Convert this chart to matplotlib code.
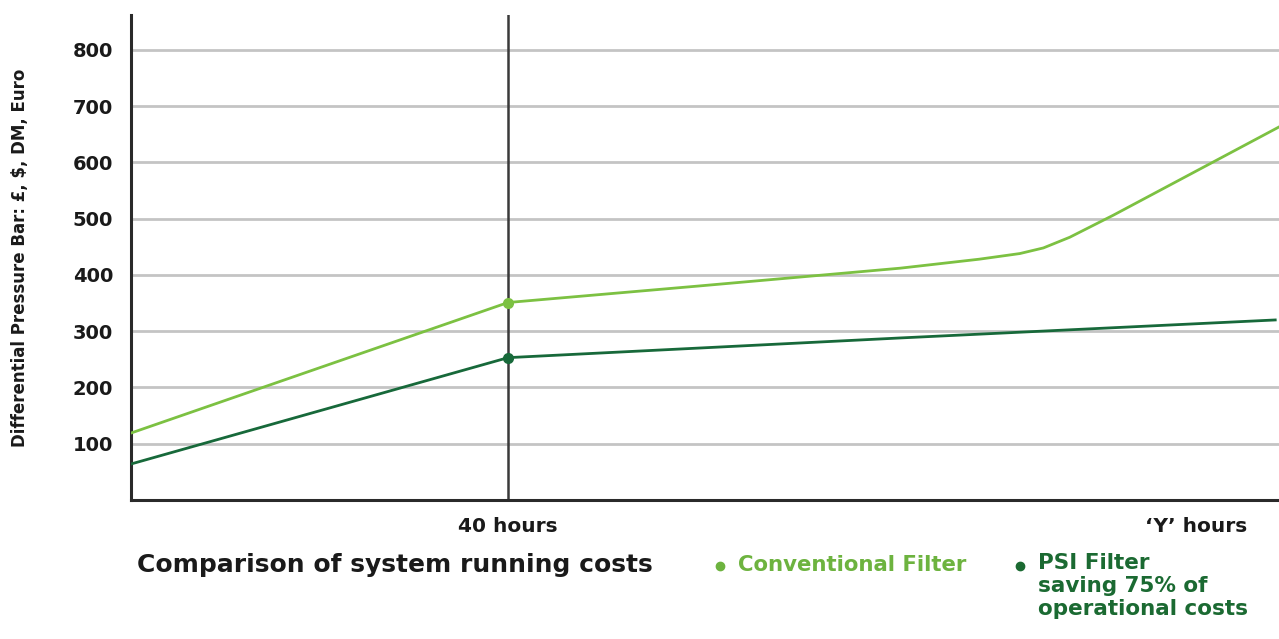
import numpy as np
import matplotlib
matplotlib.use("Agg")
import matplotlib.pyplot as plt
from matplotlib.lines import Line2D

conv_hours = [0, 40, 60, 81.6, 90.0, 94.3, 96.8, 99.6, 104.2, 121.8]
conv_cost = [119, 351, 380, 412, 428, 438, 448, 467, 506, 663]
psi_hours = [0, 40, 81.6, 121.4]
psi_cost = [64, 253, 288, 320]
marker_hours = 40
conv_marker = 351
psi_marker = 253

y_ticks = [100, 200, 300, 400, 500, 600, 700, 800]
x_tick_pos = [40, 113]
x_tick_labels = ["40 hours", "\u2018Y\u2019 hours"]

light_green = "#7cc142"
dark_green = "#17693a"
text_light = "#6db33f"
text_dark = "#1b6a32"
txt = "#1a1a1a"

W, H = 1279, 639
fig = plt.figure(figsize=(W / 100, H / 100), dpi=100)
ax = fig.add_axes([131 / W, 1 - 500 / H, 1 - 131 / W, (500 - 15) / H])

ax.set_xlim(0, 121.8)
ax.set_ylim(0, 862)

for t in y_ticks:
    ax.axhline(t, color="#c4c4c4", lw=2, zorder=1)
ax.axvline(marker_hours, color="#3a3a3a", lw=1.8, zorder=2)

ax.plot(conv_hours, conv_cost, color=light_green, lw=2, zorder=3)
ax.plot(psi_hours, psi_cost, color=dark_green, lw=2, zorder=3)
ax.plot([marker_hours], [conv_marker], "o", color=light_green, ms=7, zorder=4)
ax.plot([marker_hours], [psi_marker], "o", color=dark_green, ms=7, zorder=4)

for s in ["top", "right"]:
    ax.spines[s].set_visible(False)
for s in ["left", "bottom"]:
    ax.spines[s].set_color("#2a2a2a")
    ax.spines[s].set_linewidth(2.2)

ax.set_yticks(y_ticks)
ax.set_yticklabels([str(t) for t in y_ticks], fontsize=14, fontweight="bold",
                   family="DejaVu Sans", color=txt)
ax.set_xticks(x_tick_pos)
ax.set_xticklabels(x_tick_labels, fontsize=14.5, fontweight="bold", family="DejaVu Sans", color=txt)
ax.tick_params(axis="both", length=0)
ax.tick_params(axis="y", pad=13)
ax.tick_params(axis="x", pad=12)

fig.text(20 / W, 1 - 258 / H, "Differential Pressure Bar: \u00a3, $, DM, Euro", rotation=90,
         ha="center", va="center", fontsize=12, fontweight="heavy",
         family=["Liberation Sans Narrow", "DejaVu Sans"], color=txt)

fig.text(137 / W, 1 - 565 / H, "Comparison of system running costs", ha="left", va="center",
         fontsize=18, fontweight="bold", family="DejaVu Sans", color=txt)

fig.add_artist(Line2D([720 / W], [1 - 566 / H], marker="o", color=text_light, ms=6,
                      linestyle="none", transform=fig.transFigure))
fig.text(738 / W, 1 - 565 / H, "Conventional Filter", ha="left", va="center",
         fontsize=15.3, fontweight="bold", family="DejaVu Sans", color=text_light)

fig.add_artist(Line2D([1020 / W], [1 - 566 / H], marker="o", color=text_dark, ms=6,
                      linestyle="none", transform=fig.transFigure))
fig.text(1038 / W, 1 - 553 / H, "PSI Filter\nsaving 75% of\noperational costs", ha="left", va="top",
         fontsize=15.5, fontweight="bold", family="DejaVu Sans", color=text_dark, linespacing=1.2)

fig.savefig("out.png", dpi=100)
